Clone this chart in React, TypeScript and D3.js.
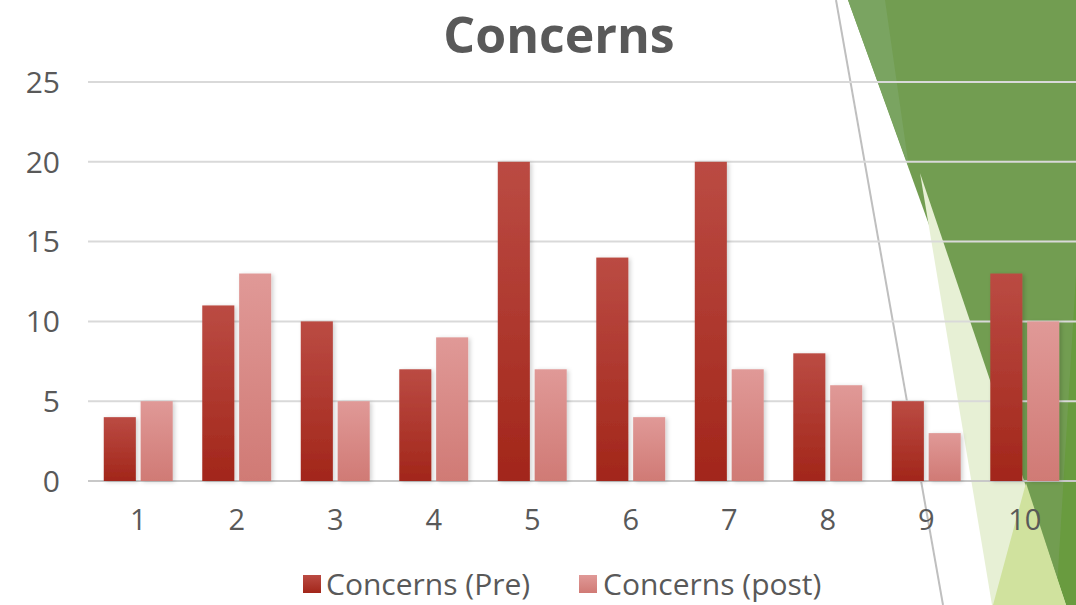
import React from "react";
import * as d3 from "d3";

const categories = ["1", "2", "3", "4", "5", "6", "7", "8", "9", "10"];
const preValues = [4, 11, 10, 7, 20, 14, 20, 8, 5, 13];
const postValues = [5, 13, 5, 9, 7, 4, 7, 6, 3, 10];
const yTicks = [0, 5, 10, 15, 20, 25];
const seriesNames = ["Concerns (Pre)", "Concerns (post)"];

const W = 1076;
const H = 605;
const FONT = "'Open Sans', 'DejaVu Sans', sans-serif";
const TEXT = "#595959";

export default function App() {
  const x = d3.scaleBand<string>().domain(categories).range([88, 1075]).paddingInner(0.3).paddingOuter(0.16);
  const sub = d3.scaleBand<string>().domain(["pre", "post"]).range([0, x.bandwidth()]).paddingInner(0.13);
  const y = d3.scaleLinear().domain([0, 25]).range([481, 82]);

  return (
    <svg width={W} height={H} style={{ position: "absolute", left: 0, top: 0 }}>
      <defs>
        <linearGradient id="gPre" x1="0" y1="0" x2="0" y2="1">
          <stop offset="0" stopColor="#bb4b43" />
          <stop offset="1" stopColor="#a2261a" />
        </linearGradient>
        <linearGradient id="gPost" x1="0" y1="0" x2="0" y2="1">
          <stop offset="0" stopColor="#e09997" />
          <stop offset="1" stopColor="#d07a75" />
        </linearGradient>
        <filter id="sh" x="-30%" y="-10%" width="160%" height="120%">
          <feDropShadow dx="2" dy="1" stdDeviation="2" floodColor="#000" floodOpacity="0.18" />
        </filter>
      </defs>
      <rect width={W} height={H} fill="#ffffff" />
      {/* background decoration */}
      <polygon points="848,0 1076,0 1076,605 1066,605" fill="#729d51" />
      <polygon points="848,0 885,0 909,168" fill="#7aa461" />
      <polygon points="1076,275 1076,605 1056,605" fill="#699b3f" />
      <polygon points="920,173 992,605 1066,605" fill="#e7f0d5" />
      <polygon points="1026,483 993,605 1066,605" fill="#d0e29e" />
      <line x1={836} y1={0} x2={943} y2={605} stroke="#bfbfbf" strokeWidth={2} />

      {/* title */}
      <text x={559} y={53} textAnchor="middle" fontFamily={FONT} fontWeight={700} fontSize={50} fill={TEXT}>
        Concerns
      </text>

      {/* gridlines */}
      {yTicks.map((t) => (
        <line key={t} x1={88} x2={1076} y1={y(t)} y2={y(t)} stroke={t === 0 ? "#c8c8c8" : "#d9d9d9"} strokeWidth={2} />
      ))}
      {yTicks.map((t) => (
        <text key={"l" + t} x={60} y={y(t)} dy="0.36em" textAnchor="end" fontFamily={FONT} fontSize={30} fill={TEXT}>
          {t}
        </text>
      ))}

      {/* bars */}
      {categories.map((c, i) => (
        <g key={c} transform={`translate(${x(c)},0)`}>
          <rect x={sub("pre")} y={y(preValues[i])} width={sub.bandwidth()} height={y(0) - y(preValues[i])} fill="url(#gPre)" filter="url(#sh)" />
          <rect x={sub("post")} y={y(postValues[i])} width={sub.bandwidth()} height={y(0) - y(postValues[i])} fill="url(#gPost)" filter="url(#sh)" />
        </g>
      ))}

      {/* x labels */}
      {categories.map((c) => (
        <text key={"x" + c} x={(x(c) as number) + x.bandwidth() / 2} y={520} dy="0.36em" textAnchor="middle" fontFamily={FONT} fontSize={29} fill={TEXT}>
          {c}
        </text>
      ))}

      {/* legend */}
      <rect x={303} y={575} width={18} height={18} fill="url(#gPre)" />
      <text x={326} y={584} dy="0.36em" fontFamily={FONT} fontSize={30} fill={TEXT}>{seriesNames[0]}</text>
      <rect x={579} y={575} width={18} height={18} fill="url(#gPost)" />
      <text x={603} y={584} dy="0.36em" fontFamily={FONT} fontSize={30} fill={TEXT}>{seriesNames[1]}</text>
    </svg>
  );
}
